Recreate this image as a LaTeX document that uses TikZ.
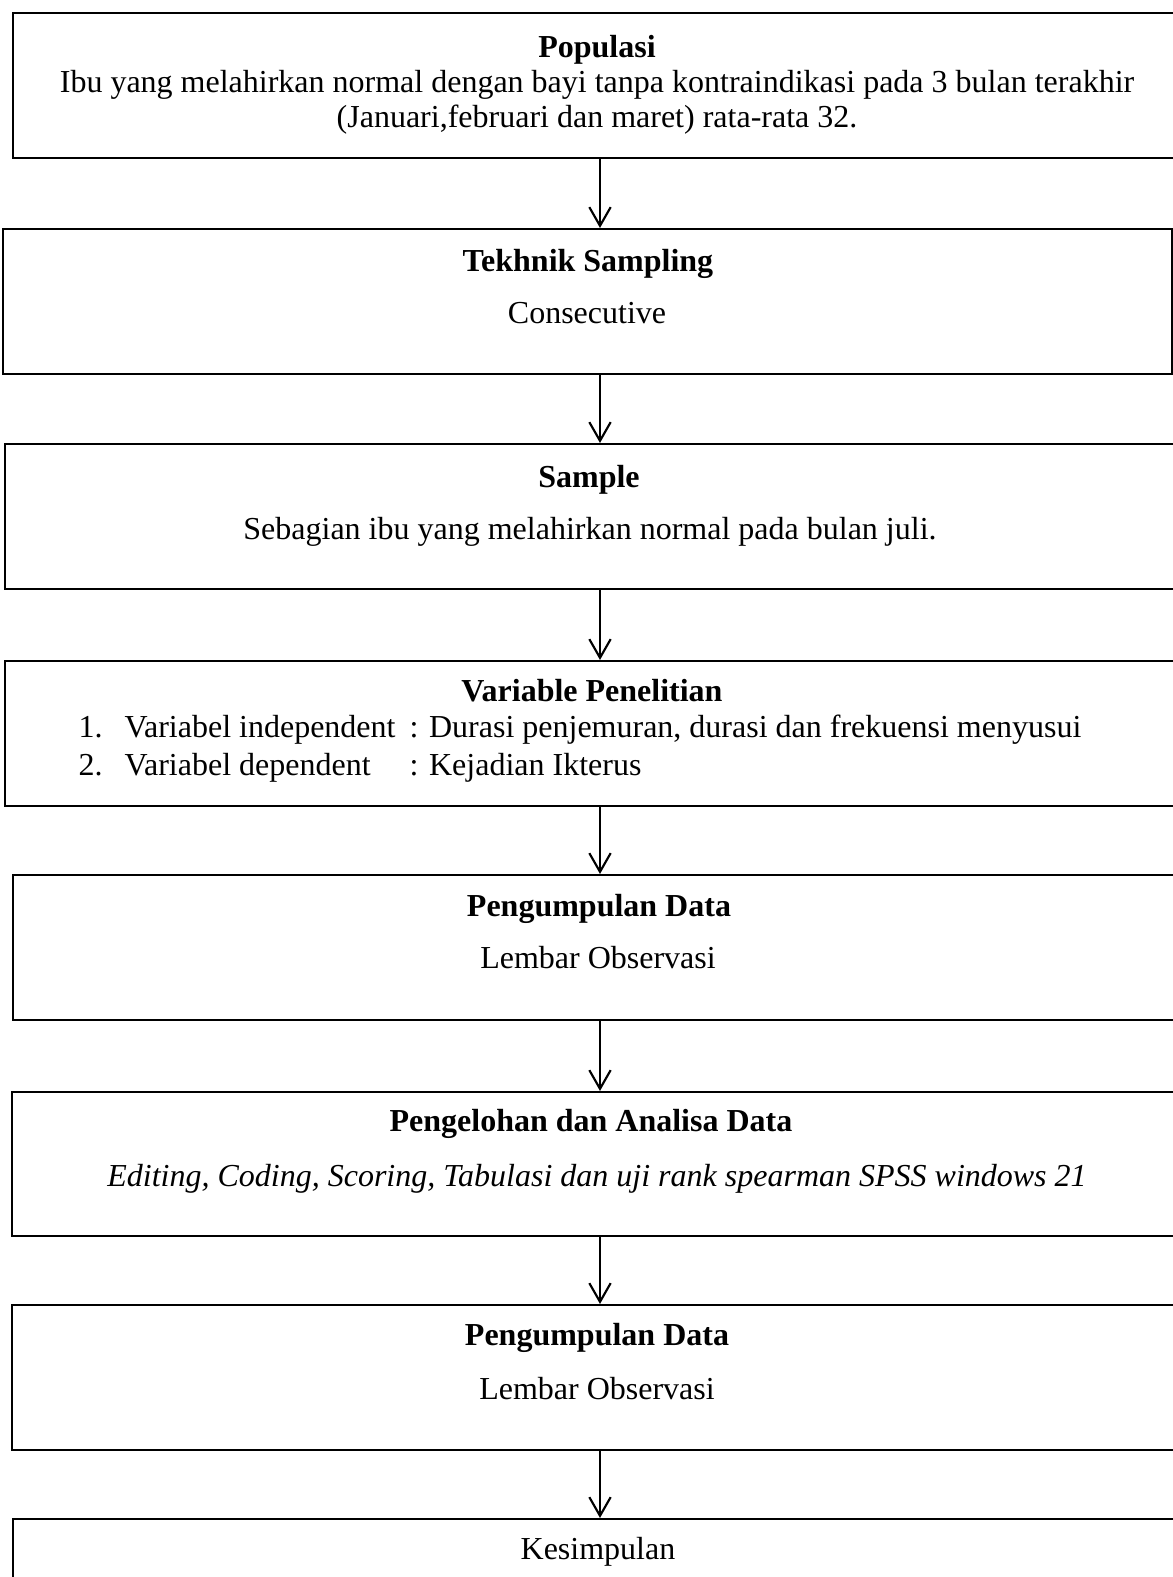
\documentclass[tikz,border=0pt]{standalone}
\usepackage{fontspec}
\setmainfont{Liberation Serif}
\usetikzlibrary{arrows.meta,fit}
\begin{document}
\begin{tikzpicture}[x=0.375pt,y=-0.375pt,
  box/.style={draw=black, line width=0.8pt, inner sep=0pt, rectangle},
  txt/.style={font=\fontsize{12}{14}\selectfont, inner sep=0pt, anchor=base},
  ttl/.style={txt, font=\fontsize{12}{14}\selectfont\bfseries},
  itl/.style={txt, font=\fontsize{12}{14}\selectfont\itshape},
  lst/.style={txt, anchor=base west},
  arr/.style={draw=black, line width=0.8pt, -{Straight Barb[length=7pt,width=8pt,line width=0.8pt]}}]
\useasboundingbox (0,0) rectangle (1173,1577);
% boxes
\node[box, fit={(13,13) (1185,158)}] (b1) {};
\node[box, fit={(3,229) (1172,374)}] (b2) {};
\node[box, fit={(5,444) (1185,589)}] (b3) {};
\node[box, fit={(5,661) (1185,806)}] (b4) {};
\node[box, fit={(13,875) (1185,1020)}] (b5) {};
\node[box, fit={(12,1092) (1185,1236)}] (b6) {};
\node[box, fit={(12,1305) (1185,1450)}] (b7) {};
\node[box, fit={(13,1519) (1185,1600)}] (b8) {};
% texts
\node[ttl] (t1a) at (597,57) {Populasi};
\node[txt] (t1b) at (597,92) {Ibu yang melahirkan normal dengan bayi tanpa kontraindikasi pada 3 bulan terakhir};
\node[txt] (t1c) at (597,127) {(Januari,februari dan maret) rata-rata 32.};
\node[ttl] (t2a) at (588,271) {Tekhnik Sampling};
\node[txt] (t2b) at (587,323) {Consecutive};
\node[ttl] (t3a) at (589,487) {Sample};
\node[txt] (t3b) at (590,539) {Sebagian ibu yang melahirkan normal pada bulan juli.};
\node[ttl] (t4a) at (592,701) {Variable Penelitian};
\node[lst] (n1) at (78,737) {1.};
\node[lst] (v1) at (124,737) {Variabel independent};
\node[lst] (c1) at (409,737) {: Durasi penjemuran, durasi dan frekuensi menyusui};
\node[lst] (n2) at (78,775) {2.};
\node[lst] (v2) at (124,775) {Variabel dependent};
\node[lst] (c2) at (409,775) {: Kejadian Ikterus};
\node[ttl] (t5a) at (599,916) {Pengumpulan Data};
\node[txt] (t5b) at (598,968) {Lembar Observasi};
\node[ttl] (t6a) at (591,1131) {Pengelohan dan Analisa Data};
\node[itl] (t6b) at (597,1186) {Editing, Coding, Scoring, Tabulasi dan uji rank spearman SPSS windows 21};
\node[ttl] (t7a) at (597,1345) {Pengumpulan Data};
\node[txt] (t7b) at (597,1399) {Lembar Observasi};
\node[txt] (t8a) at (598,1559) {Kesimpulan};
% connectors
\coordinate (ax) at (600,0);
\draw[arr] (b1.south -| ax) -- (b2.north -| ax);
\draw[arr] (b2.south -| ax) -- (b3.north -| ax);
\draw[arr] (b3.south -| ax) -- (b4.north -| ax);
\draw[arr] (b4.south -| ax) -- (b5.north -| ax);
\draw[arr] (b5.south -| ax) -- (b6.north -| ax);
\draw[arr] (b6.south -| ax) -- (b7.north -| ax);
\draw[arr] (b7.south -| ax) -- (b8.north -| ax);
\end{tikzpicture}
\end{document}
